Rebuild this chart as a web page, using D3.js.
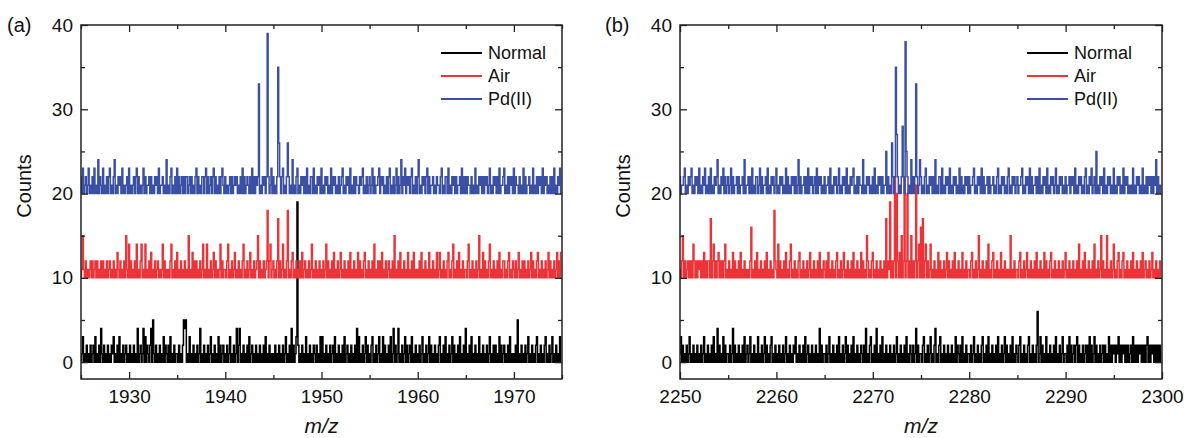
<!DOCTYPE html>
<html><head><meta charset="utf-8">
<script src="https://cdn.jsdelivr.net/npm/d3@7"></script>
<style>
body{margin:0;background:#fff}
svg{display:block}
text{font-family:"Liberation Sans",Arial,Helvetica,sans-serif;fill:#111}
</style>
</head><body>
<svg id="chart" width="1184" height="438"></svg>
<script>
// ---------- data ----------
const seriesNames = ["Normal", "Air", "Pd(II)"];
const seriesColors = ["#000000", "#ec3338", "#3b4fa3"];
const seriesOffsets = [0, 10, 20];
const yTicks = [0, 10, 20, 30, 40];
const yMinorTicks = [5, 15, 25, 35];
const yDomain = [-2, 40];
const xDomainA = [1925, 1975];
const xDomainB = [2250, 2300];
const xTicksA = [1930, 1940, 1950, 1960, 1970];
const xMinorA = [1925, 1935, 1945, 1955, 1965, 1975];
const xTicksB = [2250, 2260, 2270, 2280, 2290, 2300];
const xMinorB = [2255, 2265, 2275, 2285, 2295];
const sampleStep = 0.1; // m/z per character; each string = 1 m/z unit, base-36 counts above offset

const normalA = ["0130102010","2012030102","0410201020","1021301020","3010201201",
"0201020104","0120140302","1024051020","1020103021","0203010201",
"1020102545","0103010201","0201401020","1020130102","0103020120",
"1020130102","0140240102","0102030120","1020102010","2030102010",
"1020102010","2013010204","02013j2010","2010301020","1021020103",
"0301020102","0120301020","1020301201","0201020403","0102013020",
"1023010201","3010302010","2030140201","4010201302","0120301020",
"1020130102","0130201020","1023010203","0102013020","1020301020",
"4010203010","2010301020","1020130102","0201030201","2010203010",
"1020501020","1020130102","0102301020","1023010201","3010201030"];

const airA = ["0151020101","2020120201","0202010201","2010201031","0201020510",
"4020102040","1024010401","0203010201","2010140201","0102401020",
"3010201020","1050103020","2010201401","0401020130","2010140201",
"1024010201","3010201024","0102013010","2012502010","2012802401",
"2010270201","4010280102","3010201020","3012010201","4010201020",
"1020140201","0203010201","3010201020","3010201030","2010230102",
"0102040102","0203010201","2010205010","2030102010","3010203010",
"1020301020","1030102010","3013010201","0230102401","0203010201",
"1024010201","0201501030","2010240102","0102030102","2010230102",
"1020130102","0201020130","2010230102","0102013020","1020130203"];

const pdA = ["2030120130","1020301040","2103010202","3010240102","1203010120",
"3010120230","2010130201","1202010212","0301120104","0102301020",
"3020120202","2012020102","3020102202","3020120230","2010202310",
"2010120201","2120102030","2012102030","20212d0102","1202j20130",
"20102f6202","3010262010","4010230102","1202030102","2030102120",
"3010212010","3021201020","1230102120","3010202110","2123010201",
"2013020112","3021201020","2301020130","2014021302","1202301020",
"2401021202","3020112010","2110230102","2030102120","2011203020",
"2021102010","3010212020","2120130102","1202030112","3010202120",
"3021102010","3020112010","3010202120","3021201020","2030102130"];

const normalB = ["1302010201","3010201020","1020130102","0102030104","0201030201",
"1020140201","0201020301","2013010201","0301020130","2010230102",
"0102010201","3010201021","3010201020","3012010201","0201040201",
"1020130102","0102030102","0130201020","3010201021","0204010230",
"1020401020","3010201020","1020130102","0102030102","1020140201",
"1023010201","3010240102","3010201020","1020103021","0203010201",
"1020130102","0102301020","3010201020","3010201302","0102030102",
"1023010201","0230102010","2601302010","3010201020","3010201301",
"1020302012","0230201020","1202030201","3020102012","0201030202",
"1202130202","1202020120","3020202120","2020230202","1202020202"];

const airB = ["1025020120","2020420202","1202030202","2070240202","3020202401",
"0201030201","0203010201","0102601020","3010201020","3010201082",
"1040201020","3010240102","0102301020","1020130102","0102030102",
"1020301020","1023010201","3010201020","3010201030","2010520102",
"3010201020","1020702190","202c0a2030","502c02a020","50202b0240",
"6070240201","4010201030","2010201302","0102030102","0103010201",
"1023010201","5010201020","4010230102","0103010201","0105010201",
"1023010201","3010201020","3010201030","2010230102","0102010201",
"3010201020","1020401020","3010201020","4010201502","0105010201",
"4010230102","3010201020","3010201020","3012010201","3010201020"];

const pdB = ["2011230102","1230102120","3010213010","2030102124","0102130201",
"2013020112","0201120401","1202030102","2013020112","0301021201",
"3010212010","3020102120","2014020112","0203021201","2030212010",
"2011203010","2120130102","1203010212","3010202110","4010212010",
"2030102120","2011502010","6202f72010","2820i52010","40202d2014",
"2010230102","1202040102","2030102120","3010212010","3020102120",
"2011230102","1203020112","0201120102","3010212010","2301021201",
"2011230102","1203020112","0203010212","0301021201","3010212010",
"2011202120","3010212010","2301021301","2050102120","3010212010",
"3010212010","3021201010","3010212010","3010202120","2021402010"];

// ---------- layout ----------
const panels = [
  {label:"(a)", labelX:7, left:81, right:562, domain:xDomainA, ticks:xTicksA, minor:xMinorA,
   data:[normalA, airA, pdA], legendX:441},
  {label:"(b)", labelX:605, left:680, right:1162, domain:xDomainB, ticks:xTicksB, minor:xMinorB,
   data:[normalB, airB, pdB], legendX:1027}
];
const plotTop = 25, plotBottom = 379;
const svg = d3.select("#chart");

function decode(units, start, offset) {
  const pts = [];
  units.forEach((s, u) => {
    for (let j = 0; j < s.length; j++) {
      pts.push([start + u + j * sampleStep, parseInt(s[j], 36) + offset]);
    }
  });
  return pts;
}

panels.forEach((p, pi) => {
  const x = d3.scaleLinear().domain(p.domain).range([p.left, p.right]);
  const y = d3.scaleLinear().domain(yDomain).range([plotBottom, plotTop]);
  const g = svg.append("g");

  const clipId = "clip" + pi;
  svg.append("defs").append("clipPath").attr("id", clipId)
    .append("rect").attr("x", p.left).attr("y", plotTop)
    .attr("width", p.right - p.left).attr("height", plotBottom - plotTop);

  const line = d3.line().curve(d3.curveStep).x(d => x(d[0])).y(d => y(d[1]));
  const dg = g.append("g").attr("clip-path", `url(#${clipId})`);
  p.data.forEach((units, si) => {
    dg.append("path")
      .datum(decode(units, p.domain[0], seriesOffsets[si]))
      .attr("fill", "none")
      .attr("stroke", seriesColors[si])
      .attr("stroke-width", 1.5)
      .attr("d", line);
  });

  const axisStyle = sel => {
    sel.select(".domain").remove();
    sel.selectAll("line").attr("stroke", "#222").attr("stroke-width", 1.3);
    sel.selectAll("text").style("font-size", "19px").attr("fill", "#111");
  };
  g.append("g").attr("transform", `translate(0,${plotBottom})`)
    .call(d3.axisBottom(x).tickValues(p.ticks).tickSize(-7).tickPadding(11).tickFormat(d3.format("d")))
    .call(axisStyle);
  g.append("g").attr("transform", `translate(0,${plotBottom})`)
    .call(d3.axisBottom(x).tickValues(p.minor).tickSize(-4).tickFormat(""))
    .call(axisStyle);
  g.append("g").attr("transform", `translate(0,${plotTop})`)
    .call(d3.axisTop(x).tickValues(p.ticks).tickSize(-7).tickFormat(""))
    .call(axisStyle);
  g.append("g").attr("transform", `translate(0,${plotTop})`)
    .call(d3.axisTop(x).tickValues(p.minor).tickSize(-4).tickFormat(""))
    .call(axisStyle);
  g.append("g").attr("transform", `translate(${p.left},0)`)
    .call(d3.axisLeft(y).tickValues(yTicks).tickSize(-7).tickPadding(8))
    .call(axisStyle);
  g.append("g").attr("transform", `translate(${p.left},0)`)
    .call(d3.axisLeft(y).tickValues(yMinorTicks).tickSize(-4).tickFormat(""))
    .call(axisStyle);
  g.append("g").attr("transform", `translate(${p.right},0)`)
    .call(d3.axisRight(y).tickValues(yTicks).tickSize(-7).tickFormat(""))
    .call(axisStyle);
  g.append("g").attr("transform", `translate(${p.right},0)`)
    .call(d3.axisRight(y).tickValues(yMinorTicks).tickSize(-4).tickFormat(""))
    .call(axisStyle);

  g.append("rect").attr("x", p.left).attr("y", plotTop)
    .attr("width", p.right - p.left).attr("height", plotBottom - plotTop)
    .attr("fill", "none").attr("stroke", "#222").attr("stroke-width", 1.5);

  g.append("text").attr("transform", `translate(${p.left - 57},${186}) rotate(-90)`)
    .attr("text-anchor", "middle").attr("dy", "0.35em").style("font-size", "20px").text("Counts");
  g.append("text").attr("x", (p.left + p.right) / 2).attr("y", 433)
    .attr("text-anchor", "middle").style("font-size", "21px").style("font-style", "italic").text("m/z");
  g.append("text").attr("x", p.labelX).attr("y", 32).style("font-size", "20px").text(p.label);

  const rowY = [53, 76, 99];
  seriesNames.forEach((n, si) => {
    g.append("line").attr("x1", p.legendX).attr("x2", p.legendX + 41)
      .attr("y1", rowY[si]).attr("y2", rowY[si])
      .attr("stroke", seriesColors[si]).attr("stroke-width", 2);
    g.append("text").attr("x", p.legendX + 47).attr("y", rowY[si]).attr("dy", "0.35em")
      .style("font-size", "18px").text(n);
  });
});
</script>
</body></html>
